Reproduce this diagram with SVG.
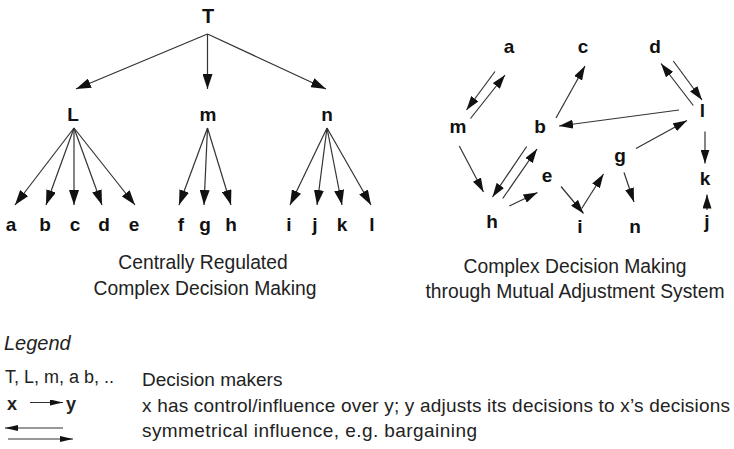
<svg xmlns="http://www.w3.org/2000/svg" width="734" height="449" viewBox="0 0 734 449">
<defs>
<style>
.n{font-family:"Liberation Sans",Arial,sans-serif;font-weight:bold;font-size:19px;fill:#111;text-anchor:middle}
.cap{font-family:"Liberation Sans",Arial,sans-serif;font-size:19.3px;fill:#222;text-anchor:middle}
.lg{font-family:"Liberation Sans",Arial,sans-serif;font-size:19px;fill:#222}
.c line{stroke:#333;stroke-width:1.2;fill:none}
.t line{marker-end:url(#ah)}
.r line{marker-end:url(#ar)}
</style>
<marker id="ah" markerUnits="userSpaceOnUse" markerWidth="15" markerHeight="10" refX="15" refY="5" orient="auto"><path d="M0,0 L15,5 L0,10 z" fill="#111"/></marker>
<marker id="ar" markerUnits="userSpaceOnUse" markerWidth="14" markerHeight="9" refX="14" refY="4.5" orient="auto"><path d="M0,0 L14,4.5 L0,9 z" fill="#111"/></marker>
<marker id="al" markerUnits="userSpaceOnUse" markerWidth="13" markerHeight="6" refX="13" refY="3" orient="auto"><path d="M0,0 L13,3 L0,6 z" fill="#111"/></marker>
</defs>
<rect width="734" height="449" fill="#fff"/>

<g id="connectors" class="c">
<g class="t">
<line x1="207.5" y1="34" x2="76" y2="89"/>
<line x1="207.5" y1="34" x2="207.5" y2="89"/>
<line x1="207.5" y1="34" x2="326" y2="89"/>
<line x1="74" y1="128" x2="15" y2="205"/>
<line x1="74" y1="128" x2="46" y2="205"/>
<line x1="74" y1="128" x2="74" y2="205"/>
<line x1="74" y1="128" x2="102" y2="205"/>
<line x1="74" y1="128" x2="135" y2="205"/>
<line x1="207.5" y1="128" x2="179" y2="205"/>
<line x1="207.5" y1="128" x2="204" y2="205"/>
<line x1="207.5" y1="128" x2="231" y2="205"/>
<line x1="327" y1="128" x2="290" y2="205"/>
<line x1="327" y1="128" x2="317" y2="205"/>
<line x1="327" y1="128" x2="342" y2="205"/>
<line x1="327" y1="128" x2="371" y2="205"/>
</g>
<g class="r">
<line x1="495" y1="71.5" x2="466.5" y2="110"/>
<line x1="470.5" y1="118.5" x2="505" y2="75"/>
<line x1="556" y1="118" x2="585" y2="66"/>
<line x1="693.3" y1="105.5" x2="661" y2="63.5"/>
<line x1="673.3" y1="61" x2="702" y2="100"/>
<line x1="679" y1="110" x2="559" y2="126"/>
<line x1="705" y1="131.5" x2="705" y2="163.5"/>
<line x1="707" y1="210" x2="707" y2="194.5"/>
<line x1="636" y1="148.5" x2="687" y2="120.5"/>
<line x1="624" y1="172.5" x2="634" y2="202"/>
<line x1="459.3" y1="146" x2="483.5" y2="192"/>
<line x1="526.7" y1="146.5" x2="492.5" y2="197"/>
<line x1="502.7" y1="198.5" x2="537" y2="149"/>
<line x1="509.3" y1="206" x2="537.5" y2="192.5"/>
<line x1="561" y1="186.5" x2="583.5" y2="213.5"/>
<line x1="581.7" y1="208.5" x2="603.5" y2="174"/>
</g>
</g>

<g id="tree">
<g id="T"><text class="n" x="208" y="22.5" style="font-size:20px">T</text></g>
<g id="L"><text class="n" x="73" y="121">L</text></g>
<g id="m"><text class="n" x="208" y="121">m</text></g>
<g id="n"><text class="n" x="327" y="121">n</text></g>
<g id="ta"><text class="n" x="11" y="231">a</text></g>
<g id="tb"><text class="n" x="45" y="231">b</text></g>
<g id="tc"><text class="n" x="75" y="231">c</text></g>
<g id="td"><text class="n" x="104" y="231">d</text></g>
<g id="te"><text class="n" x="134" y="231">e</text></g>
<g id="tf"><text class="n" x="181" y="231">f</text></g>
<g id="tg"><text class="n" x="205" y="231">g</text></g>
<g id="th"><text class="n" x="231" y="231">h</text></g>
<g id="ti"><text class="n" x="289" y="231">i</text></g>
<g id="tj"><text class="n" x="315" y="231">j</text></g>
<g id="tk"><text class="n" x="342" y="231">k</text></g>
<g id="tl"><text class="n" x="372" y="231">l</text></g>
</g>

<g id="mutual">
<g id="ra"><text class="n" x="509" y="53">a</text></g>
<g id="rc"><text class="n" x="583" y="53">c</text></g>
<g id="rd"><text class="n" x="655" y="53">d</text></g>
<g id="rm"><text class="n" x="458" y="133">m</text></g>
<g id="rb"><text class="n" x="540" y="133">b</text></g>
<g id="rl"><text class="n" x="702.5" y="117">l</text></g>
<g id="rg"><text class="n" x="620" y="162">g</text></g>
<g id="re"><text class="n" x="547" y="182">e</text></g>
<g id="rk"><text class="n" x="705" y="185">k</text></g>
<g id="rh"><text class="n" x="492" y="228">h</text></g>
<g id="ri"><text class="n" x="580" y="233">i</text></g>
<g id="rn"><text class="n" x="635" y="233">n</text></g>
<g id="rj"><text class="n" x="707" y="228">j</text></g>
</g>

<g id="captions">
<text class="cap" x="203" y="269">Centrally Regulated</text>
<text class="cap" x="205" y="295">Complex Decision Making</text>
<text class="cap" x="575" y="273">Complex Decision Making</text>
<text class="cap" x="575" y="298">through Mutual Adjustment System</text>
</g>

<g id="legend">
<text class="lg" x="4" y="350" font-style="italic" style="font-size:20px">Legend</text>
<text class="lg" x="5" y="383" style="font-size:18px">T, L, m, a b, ..</text>
<text class="lg" x="142" y="386">Decision makers</text>
<text class="lg" x="7" y="410" font-weight="bold" style="font-size:18px">x</text>
<line x1="30" y1="402.5" x2="63" y2="402.5" stroke="#333" stroke-width="1.2" marker-end="url(#al)"/>
<text class="lg" x="66" y="410" font-weight="bold" style="font-size:18px">y</text>
<text class="lg" x="142" y="412" textLength="588" lengthAdjust="spacing">x has control/influence over y; y adjusts its decisions to x’s decisions</text>
<line x1="63" y1="428" x2="5" y2="428" stroke="#333" stroke-width="1.2" marker-end="url(#al)"/>
<line x1="8" y1="439" x2="73" y2="439" stroke="#333" stroke-width="1.2" marker-end="url(#al)"/>
<text class="lg" x="142" y="437" textLength="335" lengthAdjust="spacing">symmetrical influence, e.g. bargaining</text>
</g>
</svg>
